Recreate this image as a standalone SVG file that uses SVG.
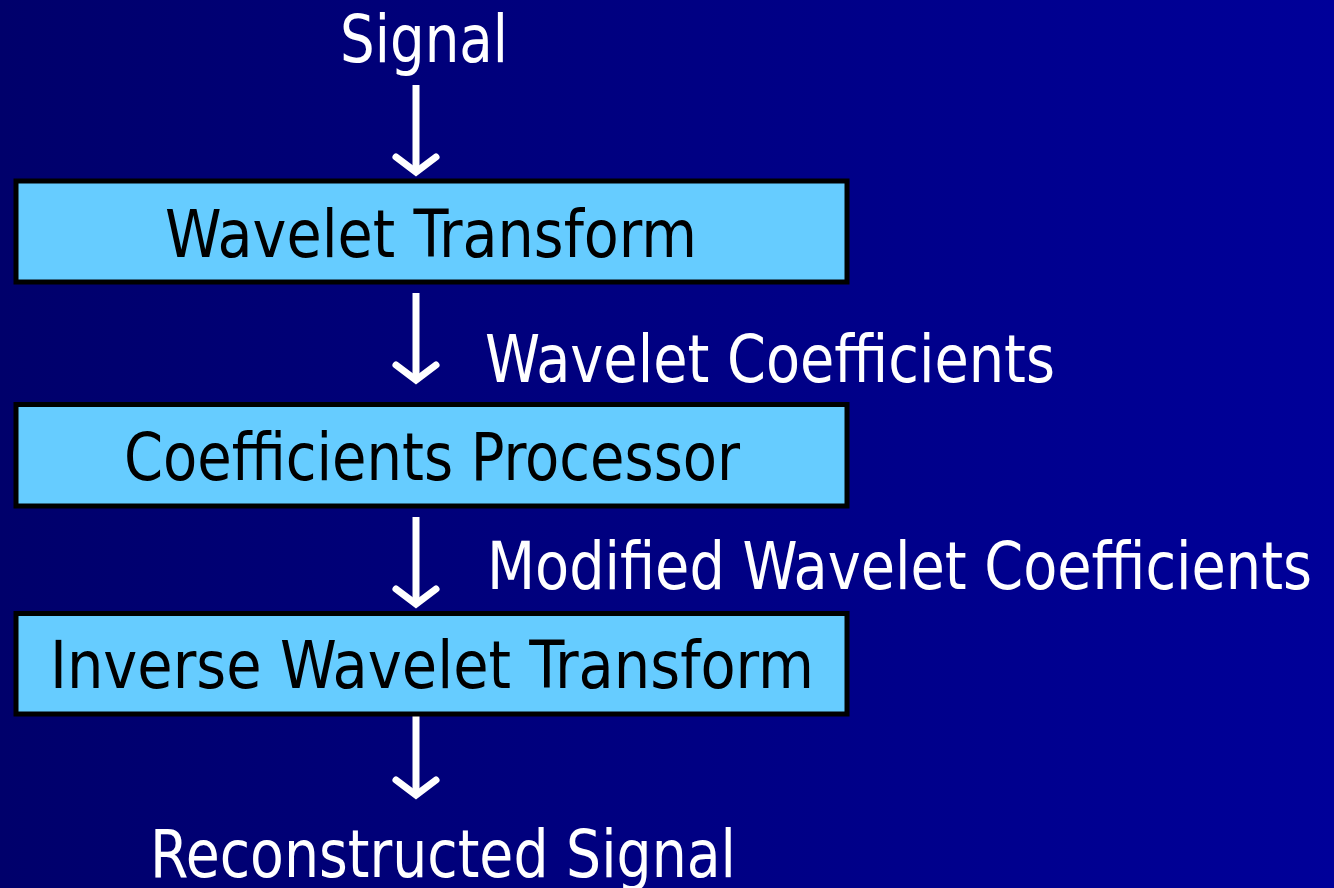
<svg xmlns="http://www.w3.org/2000/svg" width="1334" height="888" viewBox="0 0 1334 888">
  <defs>
    <linearGradient id="bg" x1="0" y1="0" x2="1" y2="0">
      <stop offset="0" stop-color="#00006B"/>
      <stop offset="1" stop-color="#000099"/>
    </linearGradient>
    <marker id="ah" markerUnits="userSpaceOnUse" markerWidth="60" markerHeight="60" refX="0" refY="0" orient="auto" overflow="visible">
      <path d="M-15,-20 L0,0 L-15,20" fill="none" stroke="#FFFFFF" stroke-width="7" stroke-linecap="round" stroke-linejoin="miter"/>
    </marker>
    <style>
      .box { fill: #66CCFF; stroke: #000000; stroke-width: 5; }
      .t { font-family: "DejaVu Sans Condensed", "DejaVu Sans", sans-serif; font-size: 65px; font-stretch: condensed; }
      .dark { fill: #000000; }
      .light { fill: #FFFFFF; }
      .conn { stroke: #FFFFFF; stroke-width: 7; fill: none; marker-end: url(#ah); }
    </style>
  </defs>
  <rect x="0" y="0" width="1334" height="888" fill="url(#bg)"/>

  <g id="connectors">
    <line class="conn" x1="416" y1="85" x2="416" y2="172"/>
    <line class="conn" x1="416" y1="293" x2="416" y2="380"/>
    <line class="conn" x1="416" y1="517" x2="416" y2="604"/>
    <line class="conn" x1="416" y1="710" x2="416" y2="795"/>
  </g>

  <g id="signal">
    <text class="t light" x="340" y="62" textLength="168" lengthAdjust="spacingAndGlyphs">Signal</text>
  </g>

  <g id="wavelet-transform">
    <rect class="box" x="16" y="181" width="831" height="101"/>
    <text class="t dark" x="165" y="257" textLength="532" lengthAdjust="spacingAndGlyphs">Wavelet Transform</text>
  </g>

  <g id="label-wavelet-coefficients">
    <text class="t light" x="485" y="382" textLength="570" lengthAdjust="spacingAndGlyphs">Wavelet Coefficients</text>
  </g>

  <g id="coefficients-processor">
    <rect class="box" x="16" y="404.5" width="831" height="101.5"/>
    <text class="t dark" x="124" y="480" textLength="616" lengthAdjust="spacingAndGlyphs">Coefficients Processor</text>
  </g>

  <g id="label-modified-coefficients">
    <text class="t light" x="487" y="589" textLength="825" lengthAdjust="spacingAndGlyphs">Modified Wavelet Coefficients</text>
  </g>

  <g id="inverse-wavelet-transform">
    <rect class="box" x="16" y="613.5" width="831" height="100.5"/>
    <text class="t dark" x="50" y="688" textLength="764" lengthAdjust="spacingAndGlyphs">Inverse Wavelet Transform</text>
  </g>

  <g id="reconstructed-signal">
    <text class="t light" x="150" y="877" textLength="586" lengthAdjust="spacingAndGlyphs">Reconstructed Signal</text>
  </g>
</svg>
